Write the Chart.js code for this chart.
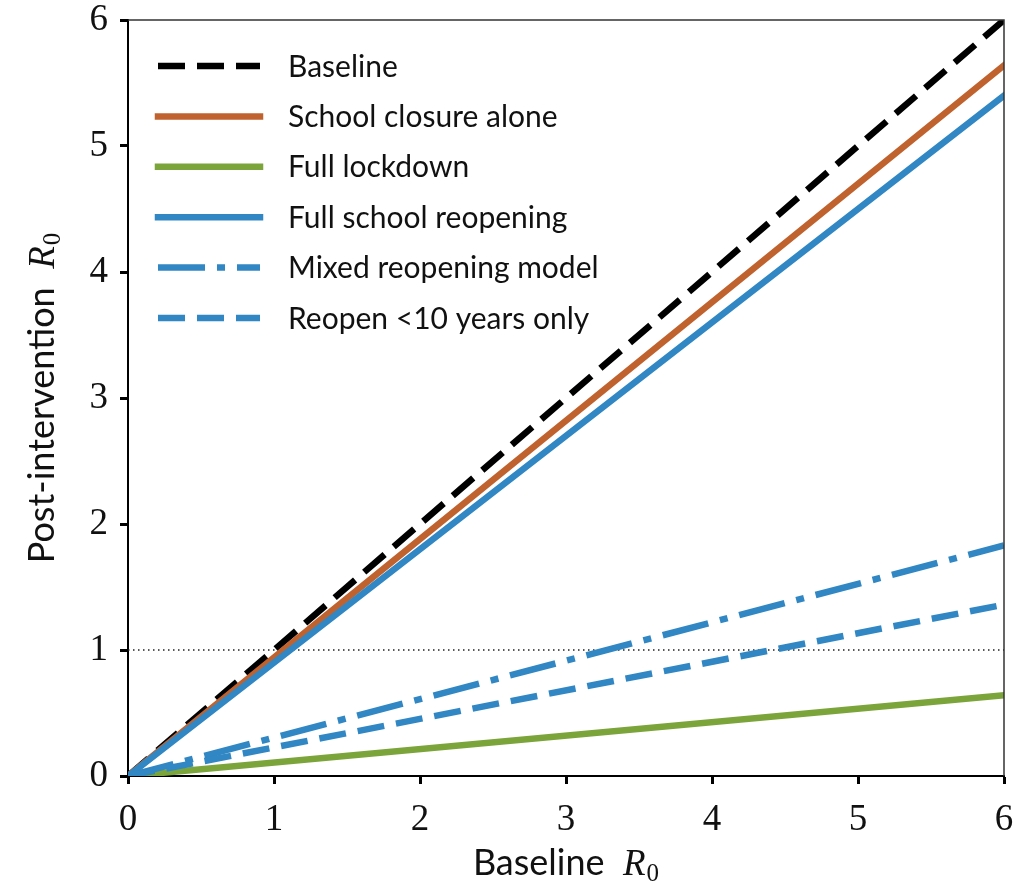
<!DOCTYPE html>
<html>
<head>
<meta charset="utf-8">
<script src="https://cdn.jsdelivr.net/npm/chart.js@4"></script>
<style>
  body { margin: 0; background: #fff; }
  #wrap { width: 1033px; height: 882px; }
</style>
</head>
<body>
<div id="wrap"><canvas id="rChart" width="1033" height="882"></canvas></div>
<script>
// Data (straight lines through the origin)
const baselineR0 = [0, 6];
const baseline = [0, 6];
const schoolClosure = [0, 5.64];
const fullLockdown = [0, 0.64];
const fullReopening = [0, 5.40];
const mixedReopening = [0, 1.83];
const reopenUnder10 = [0, 1.36];
const thresholdX = [0, 6];
const thresholdY = [1, 1];
const tickValues = [0, 1, 2, 3, 4, 5, 6];

const seriesLabels = ['Baseline', 'School closure alone', 'Full lockdown',
    'Full school reopening', 'Mixed reopening model', 'Reopen <10 years only'];

const ORANGE = '#c0622e';
const GREEN = '#7ba43a';
const BLUE = '#3087c3';

function pts(xs, ys) {
    return xs.map((x, i) => ({ x: x, y: ys[i] }));
}

const lw = 6.5;
const dashed = [27, 12];
const dashDot = [47, 12, 8, 12];

const datasets = [
    { label: seriesLabels[0], data: pts(baselineR0, baseline), borderColor: '#000', borderDash: dashed },
    { label: seriesLabels[1], data: pts(baselineR0, schoolClosure), borderColor: ORANGE, borderDash: [] },
    { label: seriesLabels[2], data: pts(baselineR0, fullLockdown), borderColor: GREEN, borderDash: [] },
    { label: seriesLabels[3], data: pts(baselineR0, fullReopening), borderColor: BLUE, borderDash: [] },
    { label: seriesLabels[4], data: pts(baselineR0, mixedReopening), borderColor: BLUE, borderDash: dashDot },
    { label: seriesLabels[5], data: pts(baselineR0, reopenUnder10), borderColor: BLUE, borderDash: dashed }
].map((d, i) => Object.assign(d, {
    borderWidth: lw,
    pointRadius: 0,
    fill: false,
    tension: 0,
    borderCapStyle: d.borderDash.length ? 'butt' : 'square',
    order: 10 - i
}));

// threshold R0 = 1
datasets.push({
    label: 'threshold',
    data: pts(thresholdX, thresholdY),
    borderColor: '#222',
    borderWidth: 1.5,
    borderDash: [1.5, 3.5],
    pointRadius: 0,
    fill: false,
    order: 20
});

// Legend drawn by hand so line styles look like the original
const legendPlugin = {
    id: 'lineLegend',
    afterDraw(chart) {
        const c = chart.ctx;
        c.save();
        c.font = '30px Lato';
        c.textBaseline = 'middle';
        for (let i = 0; i < 6; i++) {
            const ds = chart.data.datasets[i];
            const y = 66 + i * 50.4;
            c.beginPath();
            c.strokeStyle = ds.borderColor;
            c.lineWidth = lw;
            c.lineCap = ds.borderCapStyle;
            c.setLineDash(ds.borderDash);
            c.moveTo(158, y);
            c.lineTo(260, y);
            c.stroke();
            c.setLineDash([]);
            c.fillStyle = '#111';
            c.fillText(ds.label, 288, y + 1);
        }
        c.restore();
    }
};

// top/right spines and axis titles with R_0
function drawMath(c, parts, x, y, rotate) {
    c.save();
    c.translate(x, y);
    if (rotate) c.rotate(-Math.PI / 2);
    let w = 0;
    parts.forEach(p => { c.font = p.font; w += c.measureText(p.text).width + (p.gap || 0); });
    let cx = -w / 2;
    c.fillStyle = '#111';
    c.textBaseline = 'alphabetic';
    parts.forEach(p => {
        c.font = p.font;
        c.fillText(p.text, cx, p.dy || 0);
        cx += c.measureText(p.text).width + (p.gap || 0);
    });
    c.restore();
}

const framePlugin = {
    id: 'frame',
    afterDraw(chart) {
        const a = chart.chartArea;
        const c = chart.ctx;
        c.save();
        c.strokeStyle = '#333';
        c.lineWidth = 1.5;
        c.beginPath();
        c.moveTo(a.left, a.top);
        c.lineTo(a.right, a.top);
        c.lineTo(a.right, a.bottom);
        c.stroke();
        c.restore();

        const xt = [
            { text: 'Baseline  ', font: '36px Lato' },
            { text: 'R', font: 'italic 37px "Liberation Serif"', gap: 1 },
            { text: '0', font: '25px "Liberation Serif"', dy: 6 }
        ];
        drawMath(c, xt, (a.left + a.right) / 2, 875, false);
        const yt = [
            { text: 'Post-intervention  ', font: '36px Lato' },
            { text: 'R', font: 'italic 37px "Liberation Serif"', gap: 1 },
            { text: '0', font: '25px "Liberation Serif"', dy: 6 }
        ];
        drawMath(c, yt, 54, (a.top + a.bottom) / 2, true);
    }
};

const tickFont = { family: 'Liberation Serif', size: 37 };

new Chart(document.getElementById('rChart'), {
    type: 'line',
    data: { datasets: datasets },
    options: {
        responsive: false,
        animation: false,
        layout: { padding: { top: 20, right: 29, left: 0, bottom: 0 } },
        plugins: {
            legend: { display: false },
            tooltip: { enabled: false }
        },
        scales: {
            x: {
                type: 'linear',
                min: 0, max: 6,
                afterBuildTicks(s) { s.ticks = tickValues.map(v => ({ value: v })); },
                afterFit(s) { s.height = 106; s.paddingLeft = 0; s.paddingRight = 0; },
                ticks: { font: tickFont, color: '#111', padding: 14, maxRotation: 0 },
                grid: { drawOnChartArea: false, tickLength: 8, tickWidth: 3, tickColor: '#000' },
                border: { color: '#000', width: 2 }
            },
            y: {
                type: 'linear',
                min: 0, max: 6,
                afterBuildTicks(s) { s.ticks = tickValues.map(v => ({ value: v })); },
                afterFit(s) { s.width = 128; s.paddingTop = 0; s.paddingBottom = 0; },
                ticks: { font: tickFont, color: '#111', padding: 12 },
                grid: { drawOnChartArea: false, tickLength: 8, tickWidth: 3, tickColor: '#000' },
                border: { color: '#000', width: 2 }
            }
        }
    },
    plugins: [legendPlugin, framePlugin]
});
</script>
</body>
</html>
